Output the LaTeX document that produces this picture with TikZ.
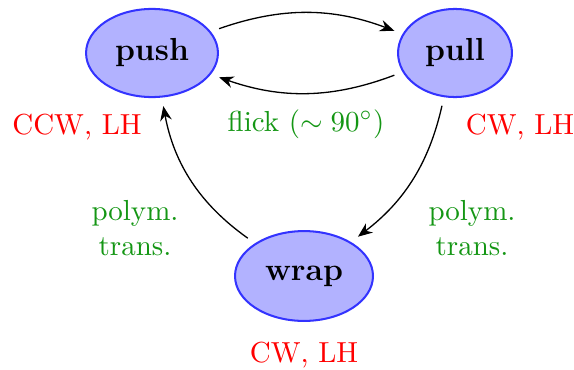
\documentclass[tikz,border=0pt]{standalone}
\usetikzlibrary{shapes.geometric,arrows.meta}
\definecolor{lblgreen}{RGB}{20,150,20}
\tikzset{
  state/.style={ellipse, draw=blue!80, fill=blue!30, line width=0.7pt, inner sep=0pt, font=\bfseries\fontsize{11}{13}\selectfont},
  conn/.style={-{Stealth[length=5pt,width=4pt]}, line width=0.45pt, shorten >=3pt, shorten <=3pt},
  hand/.style={text=red},
  trans/.style={text=lblgreen, align=center}
}
\begin{document}
\begin{tikzpicture}[x=0.345pt,y=-0.345pt]
\useasboundingbox (0,0) rectangle (574,369);
\node[state, minimum width=45.5pt, minimum height=30.4pt] (push) at (152,53) {push};
\node[state, minimum width=39.3pt, minimum height=30.4pt] (pull) at (455,53) {pull};
\node[state, minimum width=47.6pt, minimum height=31pt] (wrap) at (304,276) {wrap};
\node[hand] (lpush) at (77,127) {CCW, LH};
\node[hand] (lpull) at (520,127) {CW, LH};
\node[hand] (lwrap) at (304,355) {CW, LH};
\node[trans] (flick) at (306,124) {flick ($\sim 90^\circ$)};
\node[trans] (tl) at (135,228) {polym.\\trans.};
\node[trans] (tr) at (472,228) {polym.\\trans.};
\draw[conn] (push) to[bend left=20] (pull);
\draw[conn] (pull) to[bend left=20] (push);
\draw[conn] (pull) to[bend left=20] (wrap);
\draw[conn] (wrap) to[bend left=22] (push);
\end{tikzpicture}
\end{document}
